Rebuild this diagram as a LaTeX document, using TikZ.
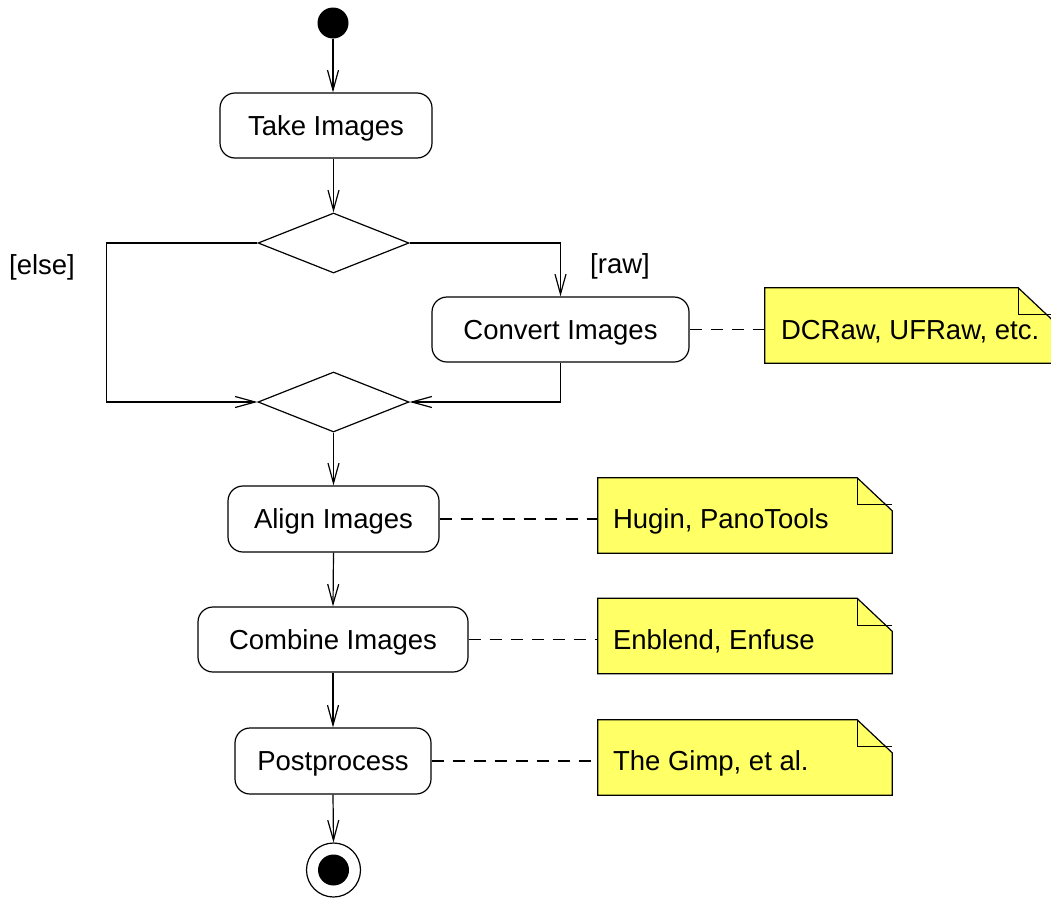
\documentclass[tikz,border=0pt]{standalone}
\usepackage{fontspec}
\setmainfont{Liberation Sans}
\usetikzlibrary{arrows.meta,shapes.geometric}

\definecolor{notefill}{RGB}{255,255,102}

\tikzset{
  uml/.style={line width=1.2pt},
  action/.style={uml,draw,rounded corners=15pt,inner sep=0pt,text depth=0pt},
  decision/.style={uml,draw,diamond,inner sep=0pt,minimum width=151pt,minimum height=60pt},
  note/.style={inner sep=0pt,minimum height=75pt},
  notetext/.style={anchor=west,inner sep=0pt,text depth=0pt},
  flow/.style={uml,-{Straight Barb[length=20pt,width=11pt,line width=1.2pt]}},
  attach/.style={uml,dash pattern=on 12pt off 9pt},
}

\begin{document}
\begin{tikzpicture}[x=1pt,y=-1pt,font=\fontsize{27.5}{33}\selectfont]
  \useasboundingbox (0,0) rectangle (1051,897);

  % activity nodes
  \node[circle,fill,inner sep=0pt,minimum size=31pt] (start) at (333,23) {};
  \node[action,minimum width=212pt,minimum height=65pt] (take) at (326,125.5) {Take Images};
  \node[decision] (split) at (333.5,243) {};
  \node[action,minimum width=257pt,minimum height=65pt] (convert) at (560.5,329.5) {Convert Images};
  \node[decision] (merge) at (333.5,402) {};
  \node[action,minimum width=211pt,minimum height=66pt] (align) at (333.5,519) {Align Images};
  \node[action,minimum width=270pt,minimum height=65pt] (combine) at (333,639.5) {Combine Images};
  \node[action,minimum width=196pt,minimum height=66pt] (post) at (333,761) {Postprocess};
  \node[uml,draw,circle,inner sep=0pt,minimum size=54pt] (stop) at (333.5,870) {};
  \node[circle,fill,inner sep=0pt,minimum size=31pt] (stopdot) at (stop) {};

  % guards
  \node (elselbl) at (42,267) {[else]};
  \node (rawlbl) at (620,266) {[raw]};

  % notes
  \node[note,minimum width=288pt] (dcraw) at (909,325.5) {};
  \node[note,minimum width=294pt] (hugin) at (745,515.5) {};
  \node[note,minimum width=294pt] (enblend) at (745,636) {};
  \node[note,minimum width=294pt] (gimp) at (745,757.5) {};
  \foreach \n in {dcraw,hugin,enblend,gimp} {
    \filldraw[uml,fill=notefill] (\n.south west) -- (\n.north west)
      -- ([xshift=-35pt]\n.north east) -- ([yshift=-33pt]\n.north east)
      -- (\n.south east) -- cycle;
    \draw[uml] ([xshift=-35pt]\n.north east) -- ([xshift=-35pt,yshift=-27pt]\n.north east)
      -- ([yshift=-27pt]\n.north east);
  }
  \node[notetext] (dcrawtxt) at ([xshift=16pt]dcraw.west |- convert) {DCRaw, UFRaw, etc.};
  \node[notetext] (hugintxt) at ([xshift=15pt]hugin.west |- align) {Hugin, PanoTools};
  \node[notetext] (enblendtxt) at ([xshift=15pt]enblend.west |- combine) {Enblend, Enfuse};
  \node[notetext] (gimptxt) at ([xshift=15pt]gimp.west |- post) {The Gimp, et al.};

  % control flow
  \draw[flow] (start.south) -- (start.south |- take.north);
  \draw[flow] (split.north |- take.south) -- (split.north);
  \draw[flow] (split.west) -- ++(-151,0) |- (merge.west);
  \draw[flow] (split.east) -| (convert.north);
  \draw[flow] (convert.south) |- (merge.east);
  \draw[flow] (merge.south) -- (align.north);
  \draw[flow] (align.south) -- (combine.north);
  \draw[flow] (combine.south) -- (post.north);
  \draw[flow] (post.south) -- (stop.north);

  % note links
  \draw[attach] (convert.east) -- (convert.east -| dcraw.west);
  \draw[attach] (align.east) -- (align.east -| hugin.west);
  \draw[attach] (combine.east) -- (combine.east -| enblend.west);
  \draw[attach] (post.east) -- (post.east -| gimp.west);
\end{tikzpicture}
\end{document}
